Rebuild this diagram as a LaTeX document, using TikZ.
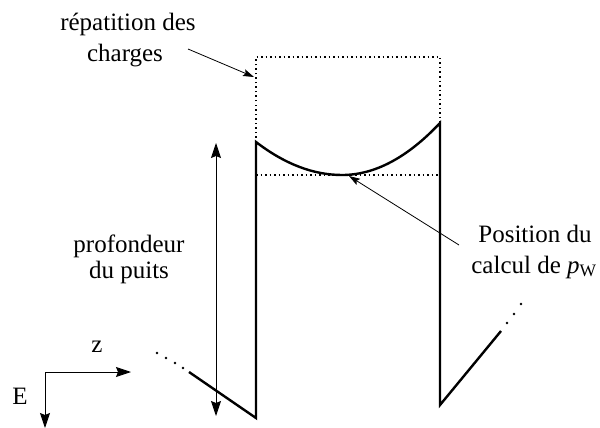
\documentclass[tikz,border=0pt]{standalone}
\usepackage{fontspec}
\setmainfont{Liberation Serif}
\usetikzlibrary{arrows.meta}
\begin{document}
\begin{tikzpicture}[x=1pt,y=-1pt,
  lbl/.style={inner sep=0pt,anchor=base,font=\fontsize{25}{30}\selectfont},
  thickln/.style={line width=2.4pt,line join=miter},
  dotln/.style={line width=1.5pt,dash pattern=on 1.5pt off 3pt},
  bigarr/.style={line width=0.9pt,-{Stealth[length=15pt,width=10pt,inset=2pt]}},
  smallarr/.style={line width=0.8pt,-{Stealth[length=11pt,width=7pt,inset=2pt]}},
  dotpt/.style={fill=black,circle,inner sep=0pt,minimum size=2.6pt}]
\useasboundingbox (0,0) rectangle (600,428);
% well corners
\coordinate (ltop) at (256,142);
\coordinate (lbot) at (256,418);
\coordinate (rtop) at (440,123);
\coordinate (rbot) at (440,405);
\coordinate (bmin) at (342,175);
\coordinate (ldiag) at (189,372);
\coordinate (rdiag) at (501,331);
% dotted charge box
\draw[dotln] (ltop) -- (256,57) -- (440,57) -- (rtop);
\draw[dotln] (256,175) -- (440,175);
% well profile
\draw[thickln] (ldiag) -- (lbot) -- (ltop)
  .. controls (284.7,164) and (313.3,175) .. (bmin)
  .. controls (374.7,175) and (407.3,157.7) .. (rtop)
  -- (rbot) -- (rdiag);
% continuation dots
\foreach \x/\y [count=\i] in {157/353,166/358,175/363,183/368}
  \node[dotpt] (ld\i) at (\x,\y) {};
\foreach \x/\y [count=\i] in {507/323,514/314,521/304}
  \node[dotpt] (rd\i) at (\x,\y) {};
% depth arrow
\coordinate (dtop) at (216,143);
\coordinate (dbot) at (216,416);
\draw[line width=0.9pt,{Stealth[length=15pt,width=10pt,inset=2pt]}-{Stealth[length=15pt,width=10pt,inset=2pt]}] (dtop) -- (dbot);
% axes
\coordinate (o) at (45,372);
\coordinate (zend) at (131,372);
\coordinate (eend) at (45,428);
\draw[bigarr] (o) -- (zend);
\draw[bigarr] (o) -- (eend);
\node[lbl] (zlab) at (97,352) {z};
\node[lbl] (elab) at (20,404) {E};
% labels
\node[lbl] (rep1) at (128,31) {répatition des};
\node[lbl] (rep2) at (125,62) {charges};
\node[lbl] (pro1) at (129,252) {profondeur};
\node[lbl] (pro2) at (129,278) {du puits};
\node[lbl] (pos1) at (535,242) {Position du};
\node[lbl] (pos2) at (534,273) {calcul de \textit{p}\textsubscript{W}};
\coordinate (repst) at (188,49);
\coordinate (repend) at (254,77);
\coordinate (posst) at (459,245);
\coordinate (posend) at (349,176);
\draw[smallarr] (repst) -- (repend);
\draw[smallarr] (posst) -- (posend);
\end{tikzpicture}
\end{document}
